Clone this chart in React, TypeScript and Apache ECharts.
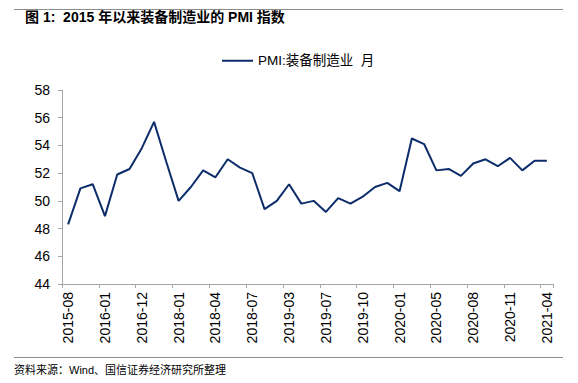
import React, { useEffect, useRef } from "react";
import * as echarts from "echarts";

const categories: string[] = [
  "2015-08", "2015-10", "2015-11", "2016-01", "2016-05", "2016-09",
  "2016-12", "2017-04", "2017-08", "2018-01", "2018-02", "2018-03",
  "2018-04", "2018-05", "2018-06", "2018-07", "2018-09", "2018-12",
  "2019-03", "2019-04", "2019-06", "2019-07", "2019-08", "2019-09",
  "2019-10", "2019-11", "2019-12", "2020-01", "2020-03", "2020-04",
  "2020-05", "2020-06", "2020-07", "2020-08", "2020-09", "2020-10",
  "2020-11", "2020-12", "2021-03", "2021-04",
];

const pmiValues: number[] = [
  48.3, 50.9, 51.2, 48.9, 51.9, 52.3,
  53.8, 55.7, 52.8, 50.0, 51.0, 52.2,
  51.7, 53.0, 52.4, 52.0, 49.4, 50.0,
  51.2, 49.8, 50.0, 49.2, 50.2, 49.8,
  50.3, 51.0, 51.3, 50.7, 54.5, 54.1,
  52.2, 52.3, 51.8, 52.7, 53.0, 52.5,
  53.1, 52.2, 52.9, 52.9,
];

const seriesName = "PMI:装备制造业  月";
const titleText = "图 1:  2015 年以来装备制造业的 PMI 指数";
const sourceText = "资料来源：Wind、国信证券经济研究所整理";

const FONT = "'Liberation Sans', Arial, 'Noto Sans CJK SC', sans-serif";

export default function App() {
  const ref = useRef<HTMLDivElement>(null);
  useEffect(() => {
    if (!ref.current) return;
    const chart = echarts.init(ref.current, undefined, { renderer: "svg" });
    chart.setOption({
      animation: false,
      backgroundColor: "#ffffff",
      textStyle: { fontFamily: FONT },
      grid: { left: 62, right: 25, top: 90, bottom: 99, containLabel: false },
      legend: {
        left: 217,
        top: 49,
        icon: "rect",
        itemWidth: 31,
        itemHeight: 2,
        textStyle: { fontSize: 13.5, color: "#000", fontFamily: FONT },
        data: [seriesName],
      },
      xAxis: {
        type: "category",
        data: categories,
        boundaryGap: true,
        axisLine: { show: true, lineStyle: { color: "#a6a6a6", width: 1 } },
        axisTick: { show: true, interval: 2, length: 4, lineStyle: { color: "#a6a6a6" } },
        axisLabel: {
          interval: 2,
          rotate: 90,
          margin: 8,
          fontSize: 14,
          color: "#000",
          fontFamily: FONT,
        },
        splitLine: { show: false },
      },
      yAxis: {
        type: "value",
        min: 44,
        max: 58,
        interval: 2,
        axisLine: { show: true, lineStyle: { color: "#a6a6a6", width: 1 } },
        axisTick: { show: true, length: 4, lineStyle: { color: "#a6a6a6" } },
        axisLabel: { fontSize: 14, color: "#000", margin: 12, fontFamily: FONT },
        splitLine: { show: false },
      },
      series: [
        {
          name: seriesName,
          type: "line",
          data: pmiValues,
          symbol: "none",
          showSymbol: false,
          lineStyle: { color: "#0c2c6a", width: 2 },
          itemStyle: { color: "#0c2c6a" },
        },
      ],
      graphic: [
        {
          type: "line",
          shape: { x1: 14, y1: 9.5, x2: 563, y2: 9.5 },
          style: { stroke: "#8c8c8c", lineWidth: 1.2 },
        },
        {
          type: "text",
          x: 25,
          y: 17,
          style: {
            text: titleText,
            fontSize: 14,
            fontWeight: "bold",
            fill: "#000",
            fontFamily: FONT,
            verticalAlign: "middle",
          },
        },
        {
          type: "line",
          shape: { x1: 14, y1: 357.5, x2: 563, y2: 357.5 },
          style: { stroke: "#8c8c8c", lineWidth: 1.2 },
        },
        {
          type: "text",
          x: 14,
          y: 370,
          style: {
            text: sourceText,
            fontSize: 11,
            fill: "#000",
            fontFamily: FONT,
            verticalAlign: "middle",
          },
        },
      ],
    });
    return () => chart.dispose();
  }, []);
  return (
    <div
      ref={ref}
      style={{ position: "fixed", left: 0, top: 0, width: 578, height: 383 }}
    />
  );
}
